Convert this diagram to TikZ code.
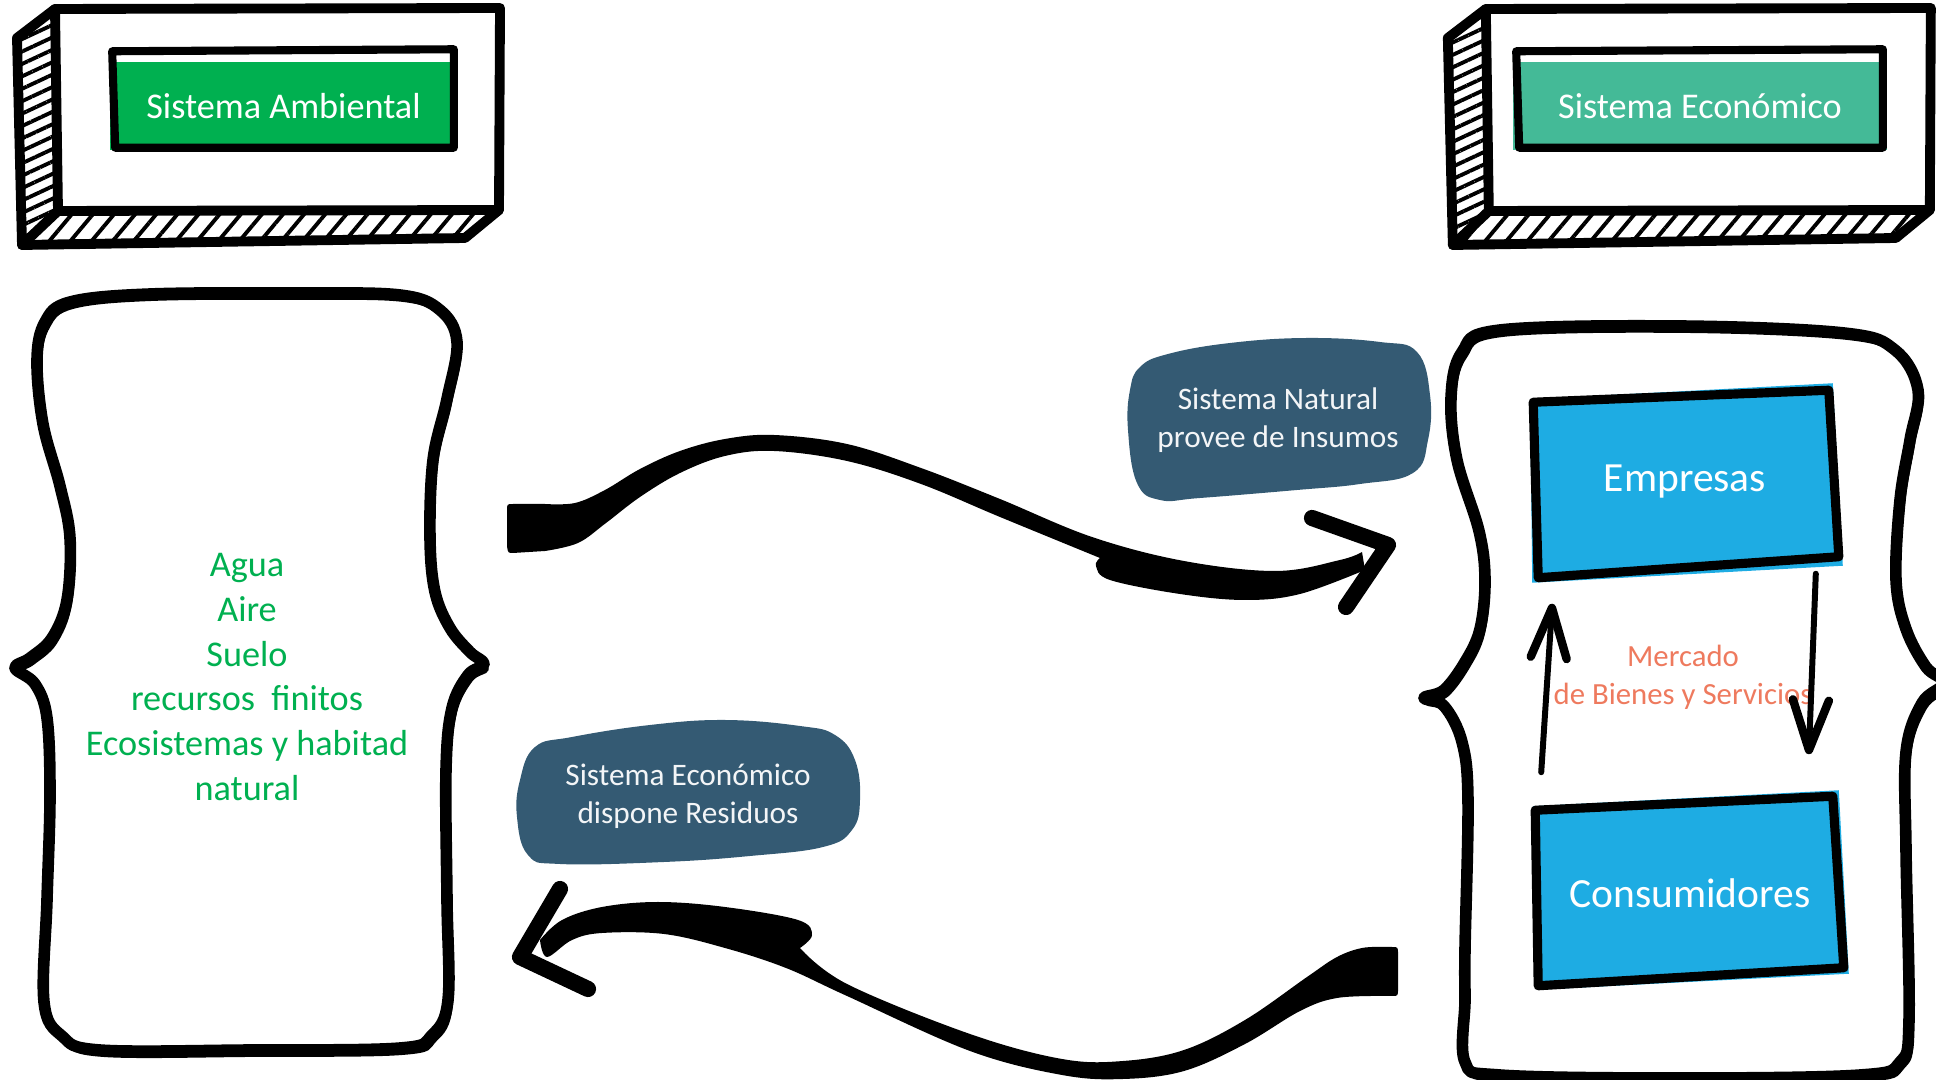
\documentclass[tikz,border=0pt]{standalone}
\usepackage{fontspec}
\setmainfont{Carlito}
\usetikzlibrary{positioning,arrows.meta,calc,backgrounds,patterns.meta}

\definecolor{ambgreen}{RGB}{0,176,80}
\definecolor{ecogreen}{RGB}{68,186,151}
\definecolor{firmblue}{RGB}{30,172,227}
\definecolor{slatebox}{RGB}{52,90,115}
\definecolor{salmon}{RGB}{238,122,94}

\begin{document}
\begin{tikzpicture}[x=0.01cm, y=-0.01cm,
  frame/.style={draw=black, line width=2.8pt, line join=round, line cap=round},
  hatchside/.style={pattern={Lines[angle=25,distance=3.2pt,line width=1.1pt]}},
  hatchbase/.style={pattern={Lines[angle=50,distance=4.6pt,line width=1.1pt]}},
  title/.style={fill=#1, text=white, font=\fontsize{10.3pt}{12pt}\selectfont,
    minimum height=0.88cm, inner sep=0pt},
  titleline/.style={draw=black, line width=2.3pt, line join=round},
  brace/.style={draw=black, line width=3.3pt, line join=round},
  bracethin/.style={draw=black, line width=1.1pt, line join=round},
  listtext/.style={text=ambgreen, align=center, font=\fontsize{10.3pt}{12.7pt}\selectfont},
  agent/.style={text=white, font=\fontsize{11.8pt}{14pt}\selectfont, inner sep=0pt},
  agentline/.style={draw=black, line width=2.6pt, line join=round},
  mercado/.style={text=salmon, align=center, font=\fontsize{8.75pt}{10.9pt}\selectfont},
  callout/.style={text=white!94!slatebox, align=center, font=\fontsize{8.9pt}{10.8pt}\selectfont},
  brush/.style={fill=black},
  barb/.style={draw=black, line width=4.6pt, line cap=round, line join=round},
  flow/.style={draw=black, line width=1.7pt, line cap=round,
    -{Straight Barb[length=5mm, width=3.6mm, line width=2.4pt, round]}},
  ambshape/.style={insert path={plot[smooth cycle, tension=0.6] coordinates {
    (70,302) (150,294) (300,293) (400,295) (440,310) (457,342) (447,399) (433,460)
    (430,538) (435,592) (450,628) (470,652) (484,664) (468,675) (452,708) (446,770)
    (447,900) (448,1000) (432,1035) (400,1048) (250,1050) (100,1050) (62,1036) (44,1002)
    (47,900) (50,795) (47,718) (35,684) (15,668) (30,658) (52,638) (67,600)
    (70,538) (60,486) (43,424) (37,360) (45,322)}}},
  ecoshape/.style={insert path={plot[smooth cycle, tension=0.6] coordinates {
    (1500,330) (1680,326) (1844,333) (1895,350) (1918,390) (1910,440) (1900,500) (1896,580)
    (1906,629) (1926,667) (1944,683) (1922,703) (1906,752) (1906,850) (1909,1020) (1900,1062)
    (1860,1075) (1680,1078) (1500,1075) (1465,1062) (1465,1000) (1465,949) (1468,801) (1462,742)
    (1444,706) (1424,698) (1444,690) (1465,662) (1480,629) (1485,580) (1479,531) (1457,460)
    (1451,398) (1462,352)}}}
]
\useasboundingbox (0,0) rectangle (1936,1080);

% Sistema Ambiental header
\fill[hatchside] (55,9) -- (17,38) -- (22,245) -- (58,211) -- cycle;
\fill[hatchbase] (58,211) -- (22,245) -- (465,238) -- (499,210) -- cycle;
\draw[frame] (55,9) -- (500,8) -- (499,210) -- (465,238) -- (22,245) -- (17,38) -- cycle;
\draw[frame] (55,9) -- (58,211) -- (499,210) (58,211) -- (22,245);
\node[title=ambgreen, minimum width=3.47cm] (ambTitle) at (283.5,106) {Sistema Ambiental};
\draw[titleline] ($(ambTitle.north west)+(3,-10)$) -- ($(ambTitle.north east)+(-4,-12)$)
  -- ($(ambTitle.south east)+(-4,-3)$) -- ($(ambTitle.south west)+(6,-3)$) -- cycle;

% Sistema Economico header
\begin{scope}[xshift=14.3cm]
\fill[hatchside] (55,9) -- (17,38) -- (22,245) -- (58,211) -- cycle;
\fill[hatchbase] (58,211) -- (22,245) -- (465,238) -- (499,210) -- cycle;
\draw[frame] (55,9) -- (500,8) -- (499,210) -- (465,238) -- (22,245) -- (17,38) -- cycle;
\draw[frame] (55,9) -- (58,211) -- (499,210) (58,211) -- (22,245);
\end{scope}
\node[title=ecogreen, minimum width=3.74cm] (ecoTitle) at (1700,106) {Sistema Económico};
\draw[titleline] ($(ecoTitle.north west)+(4,-10)$) -- ($(ecoTitle.north east)+(-5,-12)$)
  -- ($(ecoTitle.south east)+(-5,-3)$) -- ($(ecoTitle.south west)+(7,-3)$) -- cycle;

% braces
\draw[brace, ambshape];
\draw[bracethin, shift={(3,5)}, ambshape];
\draw[brace, ecoshape];
\draw[bracethin, shift={(3,5)}, ecoshape];

\node[listtext] (ambList) at (247,677)
  {Agua\\Aire\\Suelo\\recursos~ finitos\\Ecosistemas y habitad\\natural};

% market
\node[agent, minimum width=3.06cm, minimum height=1.62cm] (emp) at (1685,482) {Empresas};
\node[agent, minimum width=3.08cm, minimum height=1.72cm] (con) at (1690,893) {Consumidores};
\begin{scope}[on background layer]
\fill[firmblue] ($(emp.north west)+(-1,-1)$) -- ($(emp.north east)+(-6,-17)$)
  -- ($(emp.south east)+(4,2)$) -- ($(emp.south west)+(1,19)$) -- cycle;
\fill[firmblue] ($(con.north west)+(-2,0)$) -- ($(con.north east)+(-6,-16)$)
  -- ($(con.south east)+(4,-6)$) -- ($(con.south west)+(2,10)$) -- cycle;
\end{scope}
\draw[agentline] ($(emp.north west)+(2,2)$) -- ($(emp.north east)+(-10,-10)$)
  -- ($(emp.south east)+(0,-7)$) -- ($(emp.south west)+(7,14)$) -- cycle;
\draw[agentline] ($(con.north west)+(0,4)$) -- ($(con.north east)+(-12,-10)$)
  -- ($(con.south east)+(-1,-12)$) -- ($(con.south west)+(3,6)$) -- cycle;
\node[mercado] (mkt) at (1683,677) {Mercado\\de Bienes y Servicios};
\draw[flow] ($(con.north west)+(6,-34)$) -- ($(emp.south west)+(21,40)$);
\draw[flow] ($(emp.south east)+(-23,10)$) -- ($(con.north east)+(-36,-52)$);

% callouts
\fill[slatebox] plot[smooth cycle, tension=0.7] coordinates {
  (1140,367) (1168,354) (1230,343) (1307,338) (1380,342) (1417,352) (1430,395) (1428,440)
  (1413,473) (1360,484) (1297,490) (1200,498) (1160,500) (1137,483) (1128,430) (1130,390)};
\node[callout] (insumos) at (1278,420) {Sistema Natural\\provee de Insumos};
\fill[slatebox] plot[smooth cycle, tension=0.7] coordinates {
  (535,747) (572,737) (650,725) (725,720) (800,726) (835,735) (855,760) (860,800)
  (852,830) (823,847) (750,856) (664,862) (560,864) (528,855) (517,817) (520,780)};
\node[callout] (residuos) at (688,796) {Sistema Económico\\dispone Residuos};

% flows between the systems
\coordinate (insTail) at (507,528);
\coordinate (insTip) at (1388,545);
\coordinate (resTail) at (1398,971);
\coordinate (resTip) at (520,957);

\fill[brush] ($(insTail)+(6,-24)$)
  -- plot[smooth, tension=0.6] coordinates {(545,504) (575,503) (605,490) (640,469) (680,451)
     (725,439) (774,435) (847,444) (921,468) (1000,499) (1092,537) (1184,561) (1276,571)
     (1340,560) (1362,552)}
  -- plot[smooth, tension=0.6] coordinates {(1365,570) (1300,594) (1245,600) (1180,594)
     (1110,580) (1096,566) (1100,558)}
  -- plot[smooth, tension=0.6] coordinates {(1100,558) (1000,517) (921,484) (847,461) (774,451)
     (725,456) (680,473) (640,497) (606,523) (578,543) (545,551)}
  -- ($(insTail)+(6,25)$) .. controls ($(insTail)+(1,25)$) .. ($(insTail)+(0,18)$)
  -- ($(insTail)+(0,-17)$) .. controls ($(insTail)+(0,-24)$) .. cycle;
\draw[barb] ($(insTip)+(-76,-27)$) -- (insTip) -- ($(insTip)+(-42,62)$);

\fill[brush] ($(resTail)+(-6,-24)$)
  -- plot[smooth, tension=0.6] coordinates {(1385,947) (1362,948) (1337,957) (1307,977)
     (1245,1020) (1184,1050) (1123,1061) (1062,1059) (970,1034) (847,984) (800,948)}
  -- plot[smooth, tension=0.6] coordinates {(800,948) (812,935) (798,920) (725,907) (658,902)
     (602,907) (562,920) (540,940)}
  -- plot[smooth, tension=0.6] coordinates {(540,940) (547,957) (572,940) (602,933) (664,934)
     (725,948) (786,968) (847,996) (970,1051) (1062,1075) (1123,1079) (1184,1071) (1245,1044)
     (1300,1011) (1337,998) (1385,996)}
  -- ($(resTail)+(-6,25)$) .. controls ($(resTail)+(0,25)$) .. ($(resTail)+(0,18)$)
  -- ($(resTail)+(0,-17)$) .. controls ($(resTail)+(0,-24)$) .. cycle;
\draw[barb] ($(resTip)+(40,-68)$) -- (resTip) -- ($(resTip)+(68,32)$);

\end{tikzpicture}
\end{document}
